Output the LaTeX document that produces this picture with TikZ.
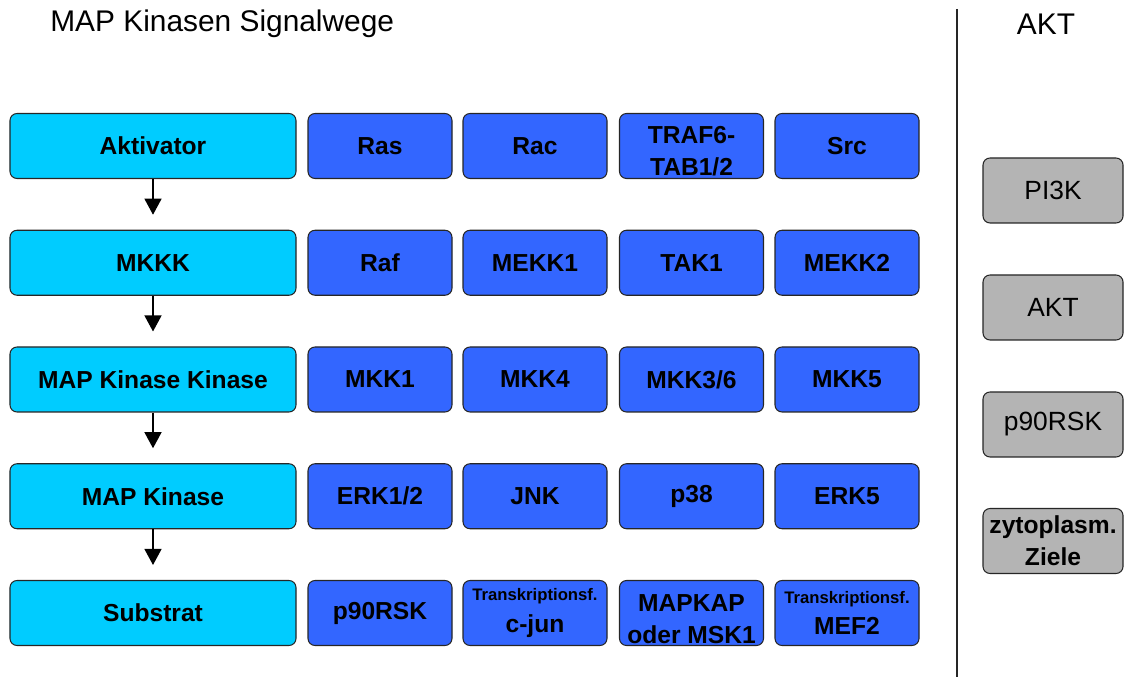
\documentclass[tikz,border=0pt]{standalone}
\usepackage{fontspec}
\setmainfont{Liberation Sans}
\usepackage{xcolor}
\usetikzlibrary{arrows.meta}

\definecolor{mapcyan}{RGB}{0,204,255}
\definecolor{mapblue}{RGB}{51,102,255}
\definecolor{aktgray}{RGB}{180,180,180}
\newcommand{\kleintext}[1]{{\fontsize{9.5}{10}\selectfont #1}}

\begin{document}
\begin{tikzpicture}[
    >={Triangle[width=0.34cm,length=0.32cm]},
    font=\fontsize{14}{18}\selectfont\bfseries,
    box/.style    = {draw=black!85, line width=0.6pt, rounded corners=4pt,
                     align=center, inner sep=0pt, minimum height=1.3cm},
    stufe/.style  = {box, fill=mapcyan, minimum width=5.72cm},
    kinase/.style = {box, fill=mapblue, minimum width=2.88cm},
    akt/.style    = {box, fill=aktgray, minimum width=2.8cm,
                     font=\fontsize{15}{18}\selectfont},
    titel/.style  = {font=\fontsize{17}{20}\selectfont, inner sep=0pt},
    arr/.style    = {->, line width=0.7pt, shorten >=0.3cm},
    trenn/.style  = {line width=0.6pt, black!85},
]
\useasboundingbox (0,0) rectangle (22.5,13.54);

%% ── Titles ────────────────────────────────────────────────────────────────
\node[titel, anchor=west] (titel) at (1.0, 13.06) {MAP Kinasen Signalwege};
\node[titel] (akttitel) at (20.92, 13.06) {AKT};

\coordinate (oben)  at (19.14, 13.36);
\coordinate (unten) at (19.14, 0);
\draw[trenn] (oben) -- (unten);

%% ── Row 1: Aktivator ──────────────────────────────────────────────────────
\node[stufe]  (aktiv) at (3.06, 10.62) {Aktivator};
\node[kinase] (ras)   at (7.60, 10.62) {Ras};
\node[kinase] (rac)   at (10.70,10.62) {Rac};
\node[kinase] (traf)  at (13.83,10.62) {};
\node[align=center, inner sep=0pt, at=(traf.center), yshift=-0.1cm]
  (traftext) {TRAF6-\\TAB1/2};
\node[kinase] (src)   at (16.94,10.62) {Src};

%% ── Row 2: MKKK ───────────────────────────────────────────────────────────
\node[stufe]  (mkkk)  at (3.06, 8.285) {MKKK};
\node[kinase] (raf)   at (7.60, 8.285) {Raf};
\node[kinase] (mekka) at (10.70,8.285) {MEKK1};
\node[kinase] (tak)   at (13.83,8.285) {TAK1};
\node[kinase] (mekkb) at (16.94,8.285) {MEKK2};

%% ── Row 3: MAP Kinase Kinase ─────────────────────────────────────────────
\node[stufe]  (mapkk) at (3.06, 5.95) {MAP Kinase Kinase};
\node[kinase] (mkka)  at (7.60, 5.95) {MKK1};
\node[kinase] (mkkd)  at (10.70,5.95) {MKK4};
\node[kinase] (mkkc)  at (13.83,5.95) {MKK3/6};
\node[kinase] (mkke)  at (16.94,5.95) {MKK5};

%% ── Row 4: MAP Kinase ─────────────────────────────────────────────────────
\node[stufe]  (mapk)  at (3.06, 3.615) {MAP Kinase};
\node[kinase] (erk)   at (7.60, 3.615) {ERK1/2};
\node[kinase] (jnk)   at (10.70,3.615) {JNK};
\node[kinase] (pdrei) at (13.83,3.615) {p38};
\node[kinase] (erkf)  at (16.94,3.615) {ERK5};

%% ── Row 5: Substrat ───────────────────────────────────────────────────────
\node[stufe]  (subst) at (3.06, 1.28) {Substrat};
\node[kinase] (rsk)   at (7.60, 1.28) {p90RSK};
\node[kinase] (cjun)  at (10.70,1.28) {\kleintext{Transkriptionsf.}\\c-jun};
\node[kinase] (mapkap) at (13.83,1.28) {};
\node[align=center, inner sep=0pt, at=(mapkap.center), yshift=-0.12cm]
  (mapkaptext) {MAPKAP\\oder MSK1};
\node[kinase] (mef)   at (16.94,1.28) {\kleintext{Transkriptionsf.}\\MEF2};

\draw[arr] (aktiv.south) -- (mkkk.north);
\draw[arr] (mkkk.south)  -- (mapkk.north);
\draw[arr] (mapkk.south) -- (mapk.north);
\draw[arr] (mapk.south)  -- (subst.north);

%% ── AKT column ────────────────────────────────────────────────────────────
\node[akt] (pik)   at (21.06, 9.73) {PI3K};
\node[akt] (akt)   at (21.06, 7.39) {AKT};
\node[akt] (aktrsk) at (21.06, 5.05) {p90RSK};
\node[akt, font=\fontsize{14}{18}\selectfont\bfseries] (ziele) at (21.06, 2.72)
  {zytoplasm.\\Ziele};

\end{tikzpicture}
\end{document}
